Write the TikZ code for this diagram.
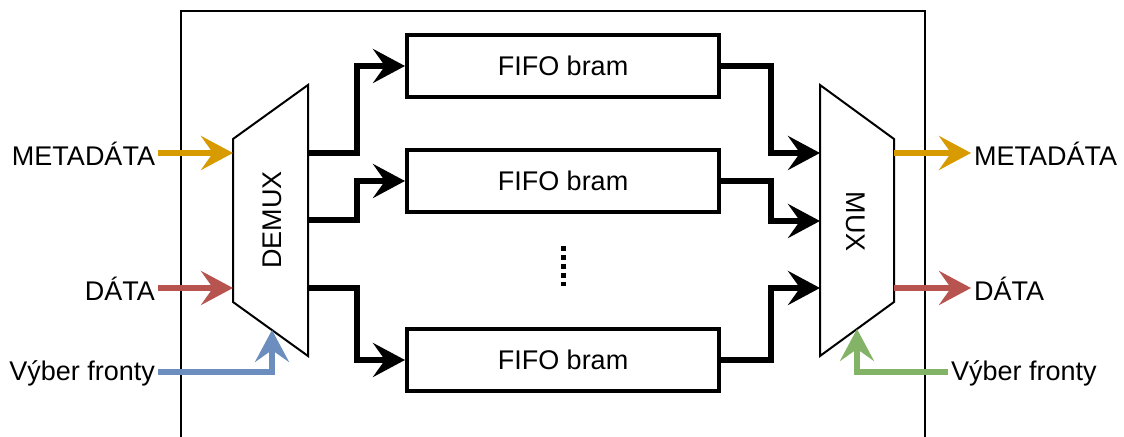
\documentclass[tikz,border=0pt]{standalone}
\usepackage{fontspec}
\setmainfont{Liberation Sans}
\usetikzlibrary{arrows.meta,positioning}
\definecolor{metac}{HTML}{D79B00}
\definecolor{datac}{HTML}{B85450}
\definecolor{selc}{HTML}{6C8EBF}
\definecolor{msel}{HTML}{82B366}

\begin{document}
\begin{tikzpicture}
    [x=0.5pt,y=-0.5pt,
    every node/.style={font=\fontsize{13.5}{16}\selectfont},
    fifo/.style={draw,line width=2pt,minimum width=156pt,minimum height=31pt,inner sep=0pt},
    blk/.style={draw,line width=1pt},
    lbl/.style={inner sep=1.5pt,outer sep=0pt},
    bus/.style={line width=3.4pt,-{Stealth[length=16pt,width=17pt,inset=6pt]}}]
  \useasboundingbox (0,0) rectangle (1124,437);
  % frame
  \draw[line width=1pt] (181,445) -- (181,11) -- (925,11) -- (925,445);
  % demux and mux
  \draw[blk] (233,139) -- (308,85) -- (308,356) -- (233,302) -- cycle;
  \node[rotate=90] (demux) at (272,220) {DEMUX};
  \draw[blk] (820,85) -- (894,139) -- (894,302) -- (820,356) -- cycle;
  \node[rotate=-90] (mux) at (856,222) {MUX};
  \coordinate (demux-in1) at (233,153);
  \coordinate (demux-in2) at (233,288);
  \coordinate (demux-sel) at (272,330);
  \coordinate (demux-out1) at (308,153);
  \coordinate (demux-out2) at (308,220);
  \coordinate (demux-out3) at (308,288);
  \coordinate (mux-in1) at (820,153);
  \coordinate (mux-in2) at (820,221);
  \coordinate (mux-in3) at (820,288);
  \coordinate (mux-out1) at (894,153);
  \coordinate (mux-out2) at (894,288);
  \coordinate (mux-sel) at (857,329);
  % fifos
  \node[fifo] (fifo1) at (563,66) {FIFO bram};
  \node[fifo,below=24.5pt of fifo1] (fifo2) {FIFO bram};
  \node[fifo,below=56.5pt of fifo2] (fifo3) {FIFO bram};
  \draw[line width=2.5pt,dash pattern=on 2.5pt off 1.9pt] (563,246.5) -- (563,286.5);
  \draw[bus] (demux-out1) -- ++(49,0) |- (fifo1.west);
  \draw[bus] (demux-out2) -- ++(49,0) |- (fifo2.west);
  \draw[bus] (demux-out3) -- ++(49,0) |- (fifo3.west);
  \draw[bus] (fifo1.east) -- ++(50,0) |- (mux-in1);
  \draw[bus] (fifo2.east) -- ++(50,0) |- (mux-in2);
  \draw[bus] (fifo3.east) -- ++(50,0) |- (mux-in3);
  % inputs
  \node[lbl,anchor=east] (in-meta) at (158,154) {METADÁTA};
  \node[lbl,anchor=east] (in-data) at (158,289) {DÁTA};
  \node[lbl,anchor=east] (in-sel) at (158,373) {Výber fronty};
  \draw[bus,metac] (in-meta.east |- demux-in1) -- (demux-in1);
  \draw[bus,datac] (in-data.east |- demux-in2) -- (demux-in2);
  \draw[bus,selc] (in-sel.east |- 0,372) -| (demux-sel);
  % outputs
  \node[lbl,anchor=west] (out-meta) at (971,154) {METADÁTA};
  \node[lbl,anchor=west] (out-data) at (971,289) {DÁTA};
  \node[lbl,anchor=west] (out-sel) at (948,373) {Výber fronty};
  \draw[bus,metac] (mux-out1) -- (mux-out1 -| out-meta.west);
  \draw[bus,datac] (mux-out2) -- (mux-out2 -| out-data.west);
  \draw[bus,msel] (out-sel.west |- 0,372) -| (mux-sel);
\end{tikzpicture}
\end{document}
